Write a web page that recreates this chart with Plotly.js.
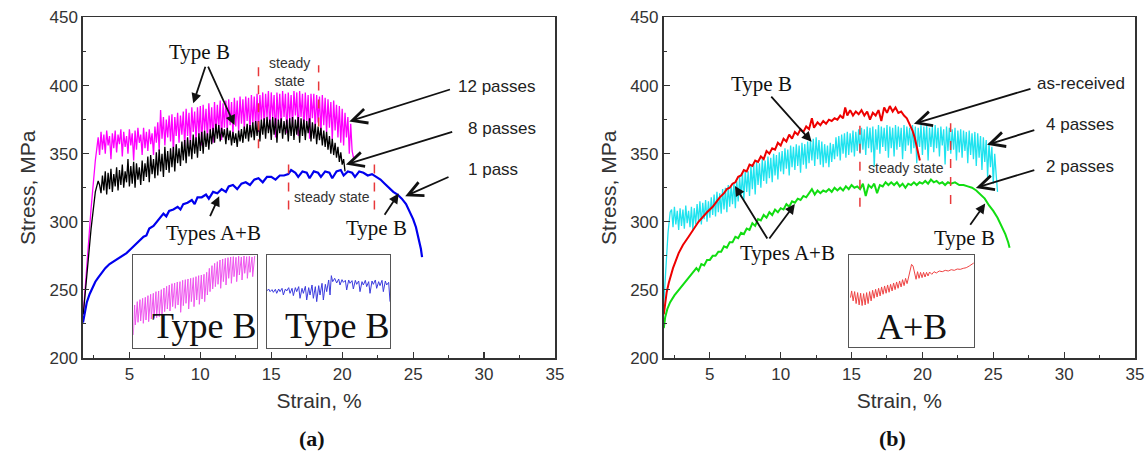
<!DOCTYPE html>
<html>
<head>
<meta charset="utf-8">
<script src="https://cdn.plot.ly/plotly-3.0.1.min.js"></script>
<style>
  html, body { margin: 0; padding: 0; background: #fff; }
  #chart { width: 1147px; height: 451px; }
</style>
</head>
<body>
<div id="chart"></div>
<script>
// ---------- (a) 12 passes ----------
const pass12Strain = [1.75,2.0,2.3,2.6,2.75,
  2.8,2.9,
  3.0,3.1,3.2,3.3,3.4,3.5,3.6,3.7,3.8,3.9,
  4.0,4.1,4.2,4.3,4.4,4.5,4.6,4.7,4.8,4.9,
  5.0,5.1,5.2,5.3,5.4,5.5,5.6,5.7,5.8,5.9,
  6.0,6.1,6.2,6.3,6.4,6.5,6.6,6.7,6.8,6.9,
  7.0,7.1,7.2,7.3,7.4,7.5,7.6,7.7,7.8,7.9,
  8.0,8.1,8.2,8.3,8.4,8.5,8.6,8.7,8.8,8.9,
  9.0,9.1,9.2,9.3,9.4,9.5,9.6,9.7,9.8,9.9,
  10.0,10.1,10.2,10.3,10.4,10.5,10.6,10.7,10.8,10.9,
  11.0,11.1,11.2,11.3,11.4,11.5,11.6,11.7,11.8,11.9,
  12.0,12.1,12.2,12.3,12.4,12.5,12.6,12.7,12.8,12.9,
  13.0,13.1,13.2,13.3,13.4,13.5,13.6,13.7,13.8,13.9,
  14.0,14.1,14.2,14.3,14.4,14.5,14.6,14.7,14.8,14.9,
  15.0,15.1,15.2,15.3,15.4,15.5,15.6,15.7,15.8,15.9,
  16.0,16.1,16.2,16.3,16.4,16.5,16.6,16.7,16.8,16.9,
  17.0,17.1,17.2,17.3,17.4,17.5,17.6,17.7,17.8,17.9,
  18.0,18.1,18.2,18.3,18.4,18.5,18.6,18.7,18.8,18.9,
  19.0,19.1,19.2,19.3,19.4,19.5,19.6,19.7,19.8,19.9,
  20.0,20.1,20.2,20.3,20.4,20.5,20.6,20.7,20.8];
const pass12Stress = [232,268,310,345,362,
  362,349,
  366,353,364,350,367,356,363,346,365,354,
  367,351,364,357,368,348,366,355,363,350,
  368,356,365,345,367,353,369,358,364,349,
  369,354,366,352,368,357,365,349,370,358,
  373,352,382,361,377,356,375,362,378,359,
  379,351,377,363,380,358,378,364,381,355,
  383,363,380,357,384,366,381,359,384,364,
  385,356,386,367,383,361,387,366,384,358,
  388,365,386,368,389,360,387,369,389,366,
  390,371,388,364,391,370,389,366,392,372,
  390,368,392,374,391,365,393,372,392,369,
  394,366,393,375,395,370,394,377,396,368,
  395,376,393,362,395,374,394,369,396,377,
  394,365,395,375,393,370,396,378,395,363,
  396,377,394,368,395,374,393,361,394,376,
  394,368,393,373,392,364,393,371,391,366,
  390,369,388,360,389,367,386,362,385,358,
  383,356,380,362,377,350,372,352,347];

// ---------- (a) 8 passes ----------
const pass8Strain = [1.75,2.0,2.3,2.6,2.8,2.9,
  3.0,3.1,3.2,3.3,3.4,3.5,3.6,3.7,3.8,3.9,
  4.0,4.1,4.2,4.3,4.4,4.5,4.6,4.7,4.8,4.9,
  5.0,5.1,5.2,5.3,5.4,5.5,5.6,5.7,5.8,5.9,
  6.0,6.1,6.2,6.3,6.4,6.5,6.6,6.7,6.8,6.9,
  7.0,7.1,7.2,7.3,7.4,7.5,7.6,7.7,7.8,7.9,
  8.0,8.1,8.2,8.3,8.4,8.5,8.6,8.7,8.8,8.9,
  9.0,9.1,9.2,9.3,9.4,9.5,9.6,9.7,9.8,9.9,
  10.0,10.1,10.2,10.3,10.4,10.5,10.6,10.7,10.8,10.9,
  11.0,11.1,11.2,11.3,11.4,11.5,11.6,11.7,11.8,11.9,
  12.0,12.1,12.2,12.3,12.4,12.5,12.6,12.7,12.8,12.9,
  13.0,13.1,13.2,13.3,13.4,13.5,13.6,13.7,13.8,13.9,
  14.0,14.1,14.2,14.3,14.4,14.5,14.6,14.7,14.8,14.9,
  15.0,15.1,15.2,15.3,15.4,15.5,15.6,15.7,15.8,15.9,
  16.0,16.1,16.2,16.3,16.4,16.5,16.6,16.7,16.8,16.9,
  17.0,17.1,17.2,17.3,17.4,17.5,17.6,17.7,17.8,17.9,
  18.0,18.1,18.2,18.3,18.4,18.5,18.6,18.7,18.8,18.9,
  19.0,19.1,19.2,19.3,19.4,19.5,19.6,19.7,19.8,19.9,
  20.0,20.1,20.2];
const pass8Stress = [232,262,295,322,330,327,
  321,334,323,337,320,336,324,339,322,335,
  326,340,323,338,327,342,325,337,329,346,
  326,341,328,344,325,343,331,340,327,345,
  330,343,333,348,329,349,335,346,332,351,
  334,353,337,350,333,355,338,352,336,354,
  340,355,337,357,343,354,341,359,345,360,
  343,362,348,360,346,364,350,362,347,365,
  352,366,350,367,355,365,353,368,357,369,
  358,372,361,371,359,369,362,368,357,369,
  360,367,356,366,358,365,355,367,359,368,
  358,370,361,372,359,371,362,373,360,374,
  363,374,359,375,364,376,361,377,365,375,
  360,377,364,376,358,375,365,376,361,374,
  364,375,359,376,363,377,360,375,364,377,
  358,376,363,375,360,374,365,376,359,373,
  361,372,357,370,360,369,356,367,355,366,
  353,363,350,361,349,358,347,355,344,351,
  342,346,337];

// ---------- (a) 1 pass ----------
const pass1Strain = [1.73,1.85,2.0,2.2,2.4,2.6,2.8,3.0,3.3,3.6,3.9,4.2,4.5,4.8,5.1,5.4,5.7,6.0,6.2,6.4,
  6.7,7.0,7.2,7.4,7.6,7.8,8.1,8.4,8.6,8.8,9.1,9.4,9.6,9.8,10.1,10.4,10.6,10.9,11.2,11.5,
  11.8,12.0,12.3,12.6,12.9,13.2,13.5,13.8,14.1,14.4,14.7,15.0,15.3,15.6,15.9,16.2,16.4,16.7,16.9,17.2,
  17.5,17.7,18.0,18.3,18.5,18.8,19.1,19.3,19.6,19.9,20.1,20.4,20.7,20.9,21.2,21.5,21.8,22.1,22.4,22.7,
  23.0,23.3,23.6,23.9,24.2,24.5,24.8,25.0,25.2,25.4,25.55,25.63];
const pass1Stress = [226,234,241,247,252,256,259,262,266,269,271,273,275,277,280,283,286,289,290,295,
  297,301,303,306,304,308,309,311,309,313,314,316,313,318,318,320,317,322,321,324,
  322,326,327,324,328,329,327,331,332,329,333,333,331,334,334,335,338,336,333,337,
  336,332,337,336,333,337,336,332,337,338,334,337,336,333,337,336,334,335,333,331,
  328,325,322,320,317,313,307,302,296,288,280,274];

// ---------- (b) 4 passes ----------
const pass4Strain = [1.75,1.9,2.05,2.2,
  2.3,2.4,2.5,2.6,2.7,2.8,2.9,
  3.0,3.1,3.2,3.3,3.4,3.5,3.6,3.7,3.8,3.9,
  4.0,4.1,4.2,4.3,4.4,4.5,4.6,4.7,4.8,4.9,
  5.0,5.1,5.2,5.3,5.4,5.5,5.6,5.7,5.8,5.9,
  6.0,6.1,6.2,6.3,6.4,6.5,6.6,6.7,6.8,6.9,
  7.0,7.1,7.2,7.3,7.4,7.5,7.6,7.7,7.8,7.9,
  8.0,8.1,8.2,8.3,8.4,8.5,8.6,8.7,8.8,8.9,
  9.0,9.1,9.2,9.3,9.4,9.5,9.6,9.7,9.8,9.9,
  10.0,10.1,10.2,10.3,10.4,10.5,10.6,10.7,10.8,10.9,
  11.0,11.1,11.2,11.3,11.4,11.5,11.6,11.7,11.8,11.9,
  12.0,12.1,12.2,12.3,12.4,12.5,12.6,12.7,12.8,12.9,
  13.0,13.1,13.2,13.3,13.4,13.5,13.6,13.7,13.8,13.9,
  14.0,14.1,14.2,14.3,14.4,14.5,14.6,14.7,14.8,14.9,
  15.0,15.1,15.2,15.3,15.4,15.5,15.6,15.7,15.8,15.9,
  16.0,16.1,16.2,16.3,16.4,16.5,16.6,16.7,16.8,16.9,
  17.0,17.1,17.2,17.3,17.4,17.5,17.6,17.7,17.8,17.9,
  18.0,18.1,18.2,18.3,18.4,18.5,18.6,18.7,18.8,18.9,
  19.0,19.1,19.2,19.3,19.4,19.5,19.6,19.7,19.8,19.9,
  20.0,20.1,20.2,20.3,20.4,20.5,20.6,20.7,20.8,20.9,
  21.0,21.1,21.2,21.3,21.4,21.5,21.6,21.7,21.8,21.9,
  22.0,22.1,22.2,22.3,22.4,22.5,22.6,22.7,22.8,22.9,
  23.0,23.1,23.2,23.3,23.4,23.5,23.6,23.7,23.8,23.9,
  24.0,24.1,24.2,24.3,24.4,24.5,24.6,24.7,24.8,24.9,
  25.0,25.1,25.2,25.3];
const pass4Stress = [240,268,292,307,
  309,296,311,298,308,294,310,
  297,309,295,312,299,308,296,311,294,310,
  298,313,300,315,298,314,302,316,300,315,
  303,318,305,320,304,322,307,321,306,324,
  309,325,307,327,311,326,313,329,310,330,
  315,333,318,336,316,338,322,337,319,341,
  324,342,320,344,327,343,325,346,330,345,
  328,348,332,347,329,350,334,349,331,351,
  337,352,335,354,339,353,334,356,340,355,
  338,357,341,356,336,358,342,357,339,359,
  343,360,345,361,341,362,346,360,342,359,
  340,357,343,356,340,358,344,357,346,362,
  348,363,345,364,350,365,347,366,349,365,
  351,367,348,366,352,368,350,369,353,368,
  349,370,354,369,351,370,340,368,353,371,
  350,370,355,369,352,371,347,370,354,369,
  348,371,353,370,355,369,346,371,352,370,
  356,369,350,371,354,370,343,369,355,371,
  349,370,353,371,345,369,355,370,351,371,
  354,369,348,370,356,368,342,370,352,369,
  350,368,353,369,345,367,351,368,347,367,
  352,366,343,367,349,365,346,366,341,365,
  347,363,338,362,344,360,333,358,340,355,
  328,350,335,322];

// ---------- (b) as-received ----------
const asRecStrain = [1.75,1.85,1.95,2.1,2.4,2.8,3.1,3.5,3.8,4.2,4.8,5.2,5.7,6.0,6.2,6.4,6.6,6.8,7.0,7.2,
  7.4,7.6,7.8,8.0,8.2,8.4,8.6,8.8,9.0,9.2,9.4,9.6,9.8,10.0,10.2,10.4,10.6,10.8,11.0,11.2,
  11.4,11.6,11.8,12.0,12.2,12.35,12.6,12.8,13.0,13.2,13.4,13.6,13.8,14.0,14.2,14.4,14.55,14.7,14.9,15.1,
  15.3,15.5,15.7,15.9,16.1,16.3,16.5,16.7,16.9,17.1,17.3,17.5,17.7,17.9,18.1,18.3,18.5,18.7,18.9,19.1,
  19.3,19.45,19.6,19.72,19.82];
const asRecStress = [232,242,248,255,266,277,283,289,294,300,307,311,318,321,324,325,328,329,333,334,
  338,337,342,341,345,344,348,346,352,350,354,353,358,356,361,359,364,361,366,364,
  368,366,370,368,376,369,373,371,374,372,375,374,376,375,378,376,384,378,382,378,
  381,379,382,378,381,375,380,378,382,374,384,380,385,381,384,380,381,378,376,372,
  367,362,355,350,345];

// ---------- (b) 2 passes ----------
const pass2Strain = [1.75,1.85,2.0,2.2,2.5,2.8,3.1,3.4,3.7,3.9,4.05,4.2,4.4,4.6,4.8,5.0,5.2,5.4,5.6,5.8,
  6.0,6.2,6.4,6.6,6.8,7.0,7.2,7.4,7.6,7.8,8.0,8.2,8.4,8.6,8.8,9.0,9.2,9.4,9.6,9.8,
  10.0,10.2,10.4,10.6,10.8,11.0,11.2,11.4,11.6,11.8,12.0,12.2,12.4,12.6,12.8,13.0,13.2,13.4,13.6,13.8,
  14.0,14.2,14.4,14.6,14.8,15.0,15.2,15.4,15.6,15.8,16.0,16.2,16.4,16.6,16.8,17.0,17.2,17.4,17.6,17.8,
  18.0,18.2,18.4,18.6,18.8,19.0,19.2,19.4,19.6,19.8,20.0,20.2,20.4,20.6,20.8,21.0,21.2,21.4,21.6,21.8,
  22.0,22.3,22.6,22.9,23.2,23.5,23.8,24.1,24.4,24.7,25.0,25.3,25.6,25.85,26.05,26.15];
const pass2Stress = [222,230,236,241,246,250,254,258,262,264,266,264,269,268,272,272,275,275,278,278,
  282,281,285,285,289,288,292,291,295,294,299,297,302,301,305,303,307,305,309,307,
  310,309,313,311,315,314,317,316,319,318,321,324,320,323,321,323,322,324,322,325,
  323,325,323,326,324,327,325,326,324,328,319,327,325,328,321,327,326,329,327,329,
  327,329,326,328,325,328,327,329,327,329,328,330,328,331,329,330,328,329,327,329,
  328,329,327,327,326,325,323,320,317,312,308,303,297,291,285,281];

// ---------- inset curves (relative units) ----------
const insetPinkX = [0,4,6,12,14,20,22,28,30,36,38,44,46,52,54,60,62,68,70,76,78,84,86,92,94,
  100,102,108,110,116,118,124,126,132,134,140,142,148,150,156,158,164,166,172,174,180,182,188,190,
  196,198,204,206,212,214,220,222,228,230,236,238,244,246,252,254,260,262,268,270,276,278,284,286,
  292,294,300,302,308,310,316,318,324,326,332,334,340,342,348,350,356,358,364];
const insetPinkY = [40,130,70,140,78,146,82,150,75,153,85,158,80,162,88,165,90,170,92,172,95,176,100,181,110,
  186,118,190,112,194,125,196,120,199,130,200,108,204,128,206,135,208,118,210,140,212,125,215,145,
  218,132,220,148,222,140,228,160,240,170,248,178,255,185,260,192,265,180,268,200,270,190,272,210,
  274,195,275,215,273,200,276,220,274,205,277,225,275,210,276,228,274,215,277];

const insetBlueX = [0,6,10,16,20,26,30,36,40,46,50,56,60,66,70,76,80,86,90,96,100,106,110,116,120,126,130,136,140,146,
  150,156,160,166,170,176,180,186,190,194,198,204,210,216,220,226,230,236,240,246,250,256,260,266,270,276,280,286,290,296,
  300,306,310,316,320,326,330,336,340,346,350,356,360,366,370];
const insetBlueY = [172,178,170,176,168,177,165,178,170,180,160,178,172,182,165,180,158,182,170,185,150,180,165,186,145,182,160,190,150,185,
  140,188,160,195,145,192,170,205,160,218,200,210,196,208,190,206,198,204,175,205,195,203,178,204,192,202,170,200,190,204,
  185,200,165,202,192,205,180,200,188,204,170,202,190,198,140];

const insetRedX = [3,6,10,14,18,22,26,30,34,38,42,46,50,54,58,62,66,70,74,78,82,86,90,94,98,102,106,110,114,118,
  122,126,130,134,138,142,146,150,154,158,162,166,170,174,178,182,186,190,194,198,202,206,210,214,220,226,232,240,248,256,
  264,272,280,288,296,304,312,320,326,332];
const insetRedY = [150,170,140,168,132,165,128,163,126,162,128,165,132,168,140,172,148,175,152,178,155,182,160,185,163,188,166,190,170,194,
  174,197,178,200,182,204,186,208,192,214,235,250,245,225,205,228,208,226,210,226,212,226,215,227,220,228,224,230,228,232,
  230,234,232,236,235,238,240,245,250,254];

// ---------- steady-state bounds (strain, %) ----------
const steady12 = [14.1, 18.34];
const steady1 = [16.22, 22.27];
const steadyB = [15.59, 21.99];

const SANS = 'Liberation Sans, Arial, sans-serif';
const SERIF = 'Liberation Serif, Times New Roman, serif';

function curve(x, y, color, xa, ya, w) {
  return { type: 'scatter', mode: 'lines', x: x, y: y, xaxis: xa, yaxis: ya,
           line: { color: color, width: w || 1.3 }, hoverinfo: 'skip', showlegend: false };
}

const traces = [
  curve(pass12Strain, pass12Stress, '#ff00ff', 'x', 'y', 1.3),
  curve(pass8Strain, pass8Stress, '#000000', 'x', 'y', 1.3),
  curve(pass1Strain, pass1Stress, '#0000ee', 'x', 'y', 2.2),
  curve(pass4Strain, pass4Stress, '#1fe3ef', 'x2', 'y2', 1.3),
  curve(asRecStrain, asRecStress, '#ee0000', 'x2', 'y2', 2),
  curve(pass2Strain, pass2Stress, '#11dd11', 'x2', 'y2', 2),
  curve(insetPinkX, insetPinkY, '#ee55ee', 'x3', 'y3', 1),
  curve(insetBlueX, insetBlueY, '#3b3bdd', 'x4', 'y4', 1),
  curve(insetRedX, insetRedY, '#ee4444', 'x5', 'y5', 1)
];

const tickFont = { family: SANS, size: 17, color: '#333' };
const titleFont = { family: SANS, size: 21, color: '#333' };

function mainX(domain, anchor) {
  return {
    domain: domain, anchor: anchor, range: [1.73, 35],
    showline: true, mirror: true, linecolor: '#333', linewidth: 1.6,
    ticks: 'inside', ticklen: 6, tickwidth: 1.2, tickcolor: '#333',
    tick0: 0, dtick: 5,
    minor: { ticks: 'inside', ticklen: 3, tickwidth: 1, tickcolor: '#333', tick0: 0, dtick: 2.5 },
    showgrid: false, zeroline: false, tickfont: tickFont, automargin: false,
    title: { text: 'Strain, %', font: titleFont, standoff: 10 }
  };
}
function mainY(anchor) {
  return {
    domain: [0.2062, 0.9612], anchor: anchor, range: [200, 450],
    showline: true, mirror: true, linecolor: '#333', linewidth: 1.6,
    ticks: 'inside', ticklen: 6, tickwidth: 1.2, tickcolor: '#333',
    tick0: 0, dtick: 50,
    minor: { ticks: 'inside', ticklen: 3, tickwidth: 1, tickcolor: '#333', tick0: 0, dtick: 25 },
    showgrid: false, zeroline: false, tickfont: tickFont, automargin: false,
    title: { text: 'Stress, MPa', font: titleFont, standoff: 8 }
  };
}
function insetAxis(domain, anchor, range) {
  return {
    domain: domain, anchor: anchor, range: range,
    showline: true, mirror: true, linecolor: '#555', linewidth: 1,
    ticks: '', showticklabels: false, showgrid: false, zeroline: false, fixedrange: true
  };
}

const annotations = [];
function label(xa, ya, x, y, text, font, extra) {
  annotations.push(Object.assign({ xref: xa, yref: ya, x: x, y: y, text: text, showarrow: false,
    xanchor: 'center', yanchor: 'middle', font: font }, extra || {}));
}
function arrow(xa, ya, tailX, tailY, tipX, tipY, head) {
  annotations.push({ xref: xa, yref: ya, x: tipX, y: tipY, ax: tailX, ay: tailY,
    axref: xa, ayref: ya, text: '', showarrow: true, arrowhead: head,
    arrowsize: head === 5 ? 1.6 : 1.1, arrowwidth: 1.8, arrowcolor: '#111' });
}

const serifLbl = { family: SERIF, size: 21, color: '#111' };
const sansLbl = { family: SANS, size: 17, color: '#222' };
const smallLbl = { family: SANS, size: 14, color: '#333' };
const insetLbl = { family: SERIF, size: 36, color: '#111' };

// panel (a)
label('x', 'y', 9.96, 425, 'Type B', serifLbl);
arrow('x', 'y', 10.39, 415, 9.5, 387, 2);
arrow('x', 'y', 10.5, 415, 12.41, 371, 2);
label('x', 'y', 16.3, 410, 'steady<br>state', smallLbl);
label('x', 'y', 19.28, 318, 'steady state', smallLbl);
label('x', 'y', 30.9, 399.3, '12 passes', sansLbl);
arrow('x', 'y', 27.7, 397.5, 20.5, 373.7, 5);
label('x', 'y', 31.27, 368.8, '8 passes', sansLbl);
arrow('x', 'y', 27.86, 366.3, 20.26, 342, 5);
label('x', 'y', 30.64, 338.3, '1 pass', sansLbl);
arrow('x', 'y', 27.6, 333.4, 24.44, 318.8, 5);
label('x', 'y', 22.41, 295.6, 'Type B', serifLbl);
arrow('x', 'y', 22.92, 304.1, 23.98, 320.7, 2);
label('x', 'y', 10.94, 292, 'Types A+B', serifLbl);
arrow('x', 'y', 10.64, 303, 11.33, 318.8, 2);
label('x3 domain', 'y3 domain', 0.57, 0.24, 'Type B', insetLbl);
label('x4 domain', 'y4 domain', 0.57, 0.24, 'Type B', insetLbl);

// panel (b)
label('x2', 'y2', 8.65, 401, 'Type B', serifLbl);
arrow('x2', 'y2', 9.24, 393, 12.18, 358.8, 2);
label('x2', 'y2', 31.17, 401.7, 'as-received', sansLbl);
arrow('x2', 'y2', 27.73, 398, 19.4, 372, 5);
label('x2', 'y2', 31.1, 371.2, '4 passes', sansLbl);
arrow('x2', 'y2', 28.0, 367.6, 24.56, 356.6, 5);
label('x2', 'y2', 31.1, 340.7, '2 passes', sansLbl);
arrow('x2', 'y2', 28.0, 338.3, 23.77, 324.9, 5);
label('x2', 'y2', 22.97, 288.3, 'Type B', serifLbl);
arrow('x2', 'y2', 23.3, 296.8, 24.43, 313.4, 2);
label('x2', 'y2', 10.45, 277.3, 'Types A+B', serifLbl);
arrow('x2', 'y2', 9.12, 286.6, 6.77, 326.3, 2);
arrow('x2', 'y2', 9.12, 286.6, 11.0, 313, 2);
label('x2', 'y2', 18.81, 339.3, 'steady state', smallLbl);
label('x5 domain', 'y5 domain', 0.5, 0.22, 'A+B', insetLbl);

// panel captions
label('paper', 'paper', 0.272, 0.028, '<b>(a)</b>', { family: SERIF, size: 22, color: '#111' });
label('paper', 'paper', 0.778, 0.028, '<b>(b)</b>', { family: SERIF, size: 22, color: '#111' });

const dash = { color: '#e8383a', width: 1.5, dash: 'dash' };
function vline(xa, ya, x, y0, y1) {
  return { type: 'line', xref: xa, yref: ya, x0: x, x1: x, y0: y0, y1: y1, line: dash };
}
const shapes = [
  vline('x', 'y', steady12[0], 354, 415),
  vline('x', 'y', steady12[1], 370, 415),
  vline('x', 'y', steady1[0], 309, 347),
  vline('x', 'y', steady1[1], 309, 347),
  vline('x2', 'y2', steadyB[0], 311, 372.3),
  vline('x2', 'y2', steadyB[1], 313, 372.3)
];

const layout = {
  width: 1147, height: 451,
  margin: { l: 0, r: 0, t: 0, b: 0 },
  paper_bgcolor: '#fff', plot_bgcolor: '#fff',
  showlegend: false,
  xaxis: mainX([0.07236, 0.48387], 'y'),
  yaxis: mainY('x'),
  xaxis2: mainX([0.57847, 0.98954], 'y2'),
  yaxis2: mainY('x2'),
  xaxis3: insetAxis([0.11622, 0.2238], 'y3', [0, 370]),
  yaxis3: insetAxis([0.2277, 0.4346], 'x3', [0, 280]),
  xaxis4: insetAxis([0.23252, 0.34002], 'y4', [0, 370]),
  yaxis4: insetAxis([0.2277, 0.4346], 'x4', [0, 280]),
  xaxis5: insetAxis([0.74054, 0.84926], 'y5', [0, 333]),
  yaxis5: insetAxis([0.2297, 0.4337], 'x5', [0, 277]),
  annotations: annotations,
  shapes: shapes
};

Plotly.newPlot('chart', traces, layout, { staticPlot: true, displayModeBar: false });
</script>
</body>
</html>
